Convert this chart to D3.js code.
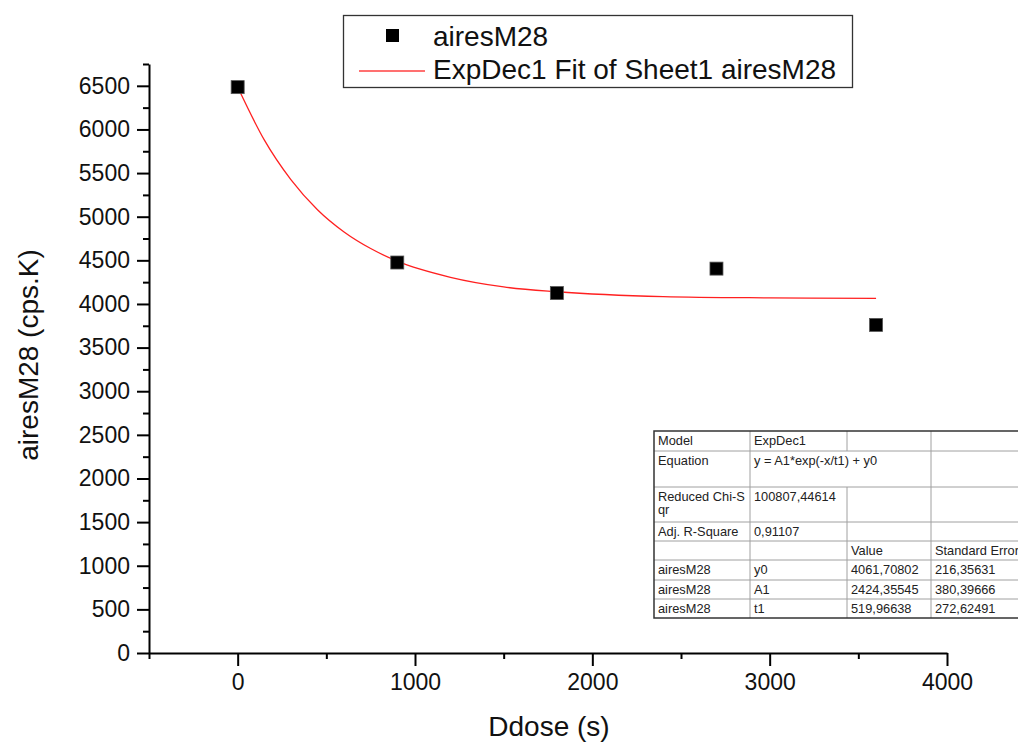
<!DOCTYPE html>
<html>
<head>
<meta charset="utf-8">
<script src="https://cdn.jsdelivr.net/npm/d3@7"></script>
<style>
  body { margin: 0; background: #fff; }
  svg { display: block; font-family: "Liberation Sans", Arial, sans-serif; }
</style>
</head>
<body>
<svg id="d3-svg"></svg>
<script>
const width = 1018;
const height = 742;

// measured points
const doseX = [0, 900, 1800, 2700, 3600];
const aires = [6485, 4475, 4125, 4405, 3760];

// ExpDec1 fit curve
const fitX = [0, 150, 300, 450, 600, 750, 900, 1200, 1500, 1800, 2400, 3000, 3600];
const fitY = [6486, 5880, 5425, 5080, 4825, 4635, 4490, 4305, 4195, 4140, 4085, 4070, 4064];

const xMajor = [0, 1000, 2000, 3000, 4000];
const xMinor = [-500, 500, 1500, 2500, 3500];
const yMajor = d3.range(0, 6501, 500);
const yMinor = d3.range(250, 6751, 500);

const legendLabels = ["airesM28", "ExpDec1 Fit of Sheet1 airesM28"];

// fit report table
const tableRows = [
    ["Model", "ExpDec1", "", ""],
    ["Equation", "y = A1*exp(-x/t1) + y0", "", ""],
    ["Reduced Chi-S\nqr", "100807,44614", "", ""],
    ["Adj. R-Square", "0,91107", "", ""],
    ["", "", "Value", "Standard Error"],
    ["airesM28", "y0", "4061,70802", "216,35631"],
    ["airesM28", "A1", "2424,35545", "380,39666"],
    ["airesM28", "t1", "519,96638", "272,62491"]
];
// row 1 (Equation): columns 2 and 3 merged
const mergedCells = [[1, 2]];
const rowHeights = [20, 36, 35, 19, 19, 20, 19, 19];
const colWidths = [96, 97, 84, 100];

const svg = d3.select("svg#d3-svg").attr("width", width).attr("height", height);
svg.append("rect").attr("width", width).attr("height", height).attr("fill", "#fff");

const x = d3.scaleLinear([-500, 4000], [149, 947]);
const y = d3.scaleLinear([0, 6750], [653, 64]);
const fmt = d3.format("d");

// y axis
const yAxis = svg.append("g").attr("transform", `translate(${x(-500)},0)`);
yAxis.call(d3.axisLeft(y).tickValues(yMajor).tickFormat(fmt).tickSize(12).tickSizeOuter(0).tickPadding(7));
const yAxisMinor = svg.append("g").attr("transform", `translate(${x(-500)},0)`);
yAxisMinor.call(d3.axisLeft(y).tickValues(yMinor).tickSize(6).tickFormat(""));
yAxisMinor.select(".domain").remove();

// x axis
const xAxis = svg.append("g").attr("transform", `translate(0,${y(0)})`);
xAxis.call(d3.axisBottom(x).tickValues(xMajor).tickFormat(fmt).tickSize(13).tickSizeOuter(0).tickPadding(8));
const xAxisMinor = svg.append("g").attr("transform", `translate(0,${y(0)})`);
xAxisMinor.call(d3.axisBottom(x).tickValues(xMinor).tickSize(6).tickFormat(""));
xAxisMinor.select(".domain").remove();

svg.selectAll(".domain, .tick line").attr("stroke", "#000").attr("stroke-width", 2);
svg.selectAll(".tick text")
    .attr("font-size", 23)
    .attr("font-family", "Liberation Sans, Arial, sans-serif")
    .attr("fill", "#111");

// axis titles
svg.append("text")
    .attr("x", 549).attr("y", 736)
    .attr("text-anchor", "middle")
    .attr("font-size", 28)
    .attr("fill", "#111")
    .text("Ddose (s)");

svg.append("text")
    .attr("transform", "translate(38,355) rotate(-90)")
    .attr("text-anchor", "middle")
    .attr("font-size", 28)
    .attr("fill", "#111")
    .text("airesM28 (cps.K)");

// fit curve
const line = d3.line()
    .x((d, i) => x(fitX[i]))
    .y(d => y(d))
    .curve(d3.curveMonotoneX);

svg.append("path")
    .attr("d", line(fitY))
    .attr("fill", "none")
    .attr("stroke", "#ff2020")
    .attr("stroke-width", 1.3);

// data points
svg.selectAll("rect.pt")
    .data(aires)
    .enter()
        .append("rect")
        .attr("class", "pt")
        .attr("x", (d, i) => x(doseX[i]) - 6.5)
        .attr("y", d => y(d) - 6.5)
        .attr("width", 13)
        .attr("height", 13)
        .attr("fill", "#000")
        .attr("stroke", "#555")
        .attr("stroke-width", 0.8);

// legend
const legend = svg.append("g");
legend.append("rect")
    .attr("x", 343.5).attr("y", 15.5)
    .attr("width", 509).attr("height", 72)
    .attr("fill", "#fff")
    .attr("stroke", "#333")
    .attr("stroke-width", 1.3);
legend.append("rect")
    .attr("x", 386).attr("y", 29).attr("width", 13).attr("height", 13)
    .attr("fill", "#000");
legend.append("line")
    .attr("x1", 359).attr("x2", 425).attr("y1", 71).attr("y2", 71)
    .attr("stroke", "#ff4040").attr("stroke-width", 1.5);
legend.selectAll("text")
    .data(legendLabels)
    .enter()
        .append("text")
        .attr("x", 433)
        .attr("y", (d, i) => 46 + i * 33)
        .attr("font-size", 28)
        .attr("fill", "#111")
        .text(d => d);

// fit table
const tbl = svg.append("g").attr("transform", "translate(654,431)");
const rowTops = rowHeights.map((h, i) => d3.sum(rowHeights.slice(0, i)));
const colLefts = colWidths.map((w, i) => d3.sum(colWidths.slice(0, i)));
const tblW = d3.sum(colWidths), tblH = d3.sum(rowHeights);

tbl.append("rect").attr("width", tblW).attr("height", tblH).attr("fill", "#fff");

tbl.selectAll("line.row")
    .data(rowTops.slice(1))
    .enter()
        .append("line")
        .attr("class", "row")
        .attr("x1", 0).attr("x2", tblW)
        .attr("y1", d => d).attr("y2", d => d)
        .attr("stroke", "#a0a0a0").attr("stroke-width", 1);

// vertical cell borders, one segment per row so merged cells can skip one
const colSegments = [];
rowHeights.forEach((h, r) => {
    colLefts.slice(1).forEach((cx, k) => {
        const c = k + 1;
        if (mergedCells.some(m => m[0] === r && m[1] === c)) return;
        colSegments.push({ x: cx, y1: rowTops[r], y2: rowTops[r] + h });
    });
});
tbl.selectAll("line.col")
    .data(colSegments)
    .enter()
        .append("line")
        .attr("class", "col")
        .attr("x1", d => d.x).attr("x2", d => d.x)
        .attr("y1", d => d.y1).attr("y2", d => d.y2)
        .attr("stroke", "#a0a0a0").attr("stroke-width", 1);

tbl.append("rect")
    .attr("width", tblW).attr("height", tblH)
    .attr("fill", "none")
    .attr("stroke", "#333").attr("stroke-width", 1.5);

tableRows.forEach((row, r) => {
    row.forEach((cell, c) => {
        if (!cell) return;
        const t = tbl.append("text")
            .attr("x", colLefts[c] + 4)
            .attr("y", rowTops[r] + 14)
            .attr("font-size", 12.8)
            .attr("fill", "#222");
        cell.split("\n").forEach((part, k) => {
            t.append("tspan")
                .attr("x", colLefts[c] + 4)
                .attr("dy", k === 0 ? 0 : 13)
                .text(part);
        });
    });
});
</script>
</body>
</html>
